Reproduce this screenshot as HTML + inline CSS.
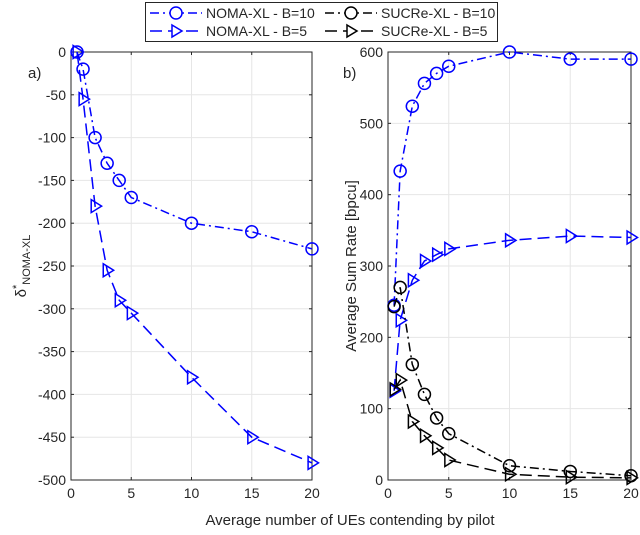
<!DOCTYPE html>
<html><head><meta charset="utf-8"><style>
body{margin:0;background:#fff;font-family:"Liberation Sans",sans-serif}
svg text{font-family:"Liberation Sans",sans-serif;fill:#262626}
</style></head><body>
<svg id="c" width="640" height="530" xmlns="http://www.w3.org/2000/svg"></svg>
<script>
const xs=[0.5,1,2,3,4,5,10,15,20];
const deltaB10=[0,-20,-100,-130,-150,-170,-200,-210,-230];
const deltaB5=[0,-55,-180,-255,-290,-305,-380,-450,-480];
const nomaB10=[245,433,524,556,570,580,600,590,590];
const nomaB5=[125,224,280,307,316,324,336,342,340];
const sucreB10=[243,270,162,120,87,65,20,12,6];
const sucreB5=[127,140,82,62,45,28,8,4,3];
const xTicks=[0,5,10,15,20];
const leftTicks=[0,-50,-100,-150,-200,-250,-300,-350,-400,-450,-500];
const rightTicks=[0,100,200,300,400,500,600];
const svg=document.getElementById('c');
const NS='http://www.w3.org/2000/svg';
function mk(t,a,p){const e=document.createElementNS(NS,t);for(const k in a)e.setAttribute(k,a[k]);(p||svg).appendChild(e);return e;}
const T=52,B=480;
const panels=[
 {x0:71,x1:312,ymin:-500,ymax:0,ticks:leftTicks,name:'left-panel'},
 {x0:388,x1:631,ymin:0,ymax:600,ticks:rightTicks,name:'right-panel'}];
panels.forEach(p=>{
 p.sx=v=>p.x0+(v-0)/20*(p.x1-p.x0);
 p.sy=v=>B-(v-p.ymin)/(p.ymax-p.ymin)*(B-T);
 const g=mk('g',{});
 
 
 mk('rect',{x:p.x0,y:T,width:p.x1-p.x0,height:B-T,fill:'#fff'},g);
 xTicks.forEach(t=>{const x=p.sx(t);
  mk('line',{x1:x,x2:x,y1:T,y2:B,stroke:'#e6e6e6','stroke-width':1},g);
  mk('line',{x1:x,x2:x,y1:B,y2:B-3,stroke:'#262626'},g);
  mk('line',{x1:x,x2:x,y1:T,y2:T+3,stroke:'#262626'},g);
  const tx=mk('text',{x:x,y:B+18,'text-anchor':'middle','font-size':14},g);tx.textContent=t;
  
  });
 p.ticks.forEach(t=>{const y=p.sy(t);
  mk('line',{x1:p.x0,x2:p.x1,y1:y,y2:y,stroke:'#e6e6e6'},g);
  mk('line',{x1:p.x0,x2:p.x0+3,y1:y,y2:y,stroke:'#262626'},g);
  mk('line',{x1:p.x1,x2:p.x1-3,y1:y,y2:y,stroke:'#262626'},g);
  const tx=mk('text',{x:p.x0-5,y:y+5,'text-anchor':'end','font-size':14},g);tx.textContent=t;
  
  });
 mk('rect',{x:p.x0,y:T,width:p.x1-p.x0,height:B-T,fill:'none',stroke:'#262626','stroke-width':1},g);
});
function tri(x,y,s){return `${x-s*0.6},${y-s} ${x+s},${y} ${x-s*0.6},${y+s}`;}
function series(p,vals,color,dash,marker,name){
 const pts=xs.map((x,i)=>[p.sx(x),p.sy(vals[i])]);
 const g=mk('g',{});
 
 
 mk('polyline',{points:pts.map(q=>q.join(',')).join(' '),fill:'none',stroke:color,'stroke-width':1.5,'stroke-dasharray':dash},g);
 pts.forEach(q=>{
  if(marker==='o')mk('circle',{cx:q[0],cy:q[1],r:6,fill:'none',stroke:color,'stroke-width':1.5},g);
  else mk('polygon',{points:tri(q[0],q[1],6.5),fill:'none',stroke:color,'stroke-width':1.5},g);
 });
}
const DD='9,4,2,4',DA='12,6';
series(panels[0],deltaB10,'#0000ff',DD,'o','delta-noma-b10');
series(panels[0],deltaB5,'#0000ff',DA,'t','delta-noma-b5');
series(panels[1],nomaB10,'#0000ff',DD,'o','rate-noma-b10');
series(panels[1],nomaB5,'#0000ff',DA,'t','rate-noma-b5');
series(panels[1],sucreB10,'#000',DD,'o','rate-sucre-b10');
series(panels[1],sucreB5,'#000',DA,'t','rate-sucre-b5');
</script>
<svg style="position:absolute;left:0;top:0" width="640" height="530" xmlns="http://www.w3.org/2000/svg">
<text x="28" y="78" font-size="15">a)</text>
<text x="343" y="78" font-size="15">b)</text>
<text transform="translate(26,266) rotate(-90)" text-anchor="middle" font-size="15">δ<tspan font-size="11" dy="-6">*</tspan><tspan font-size="11" dy="10">NOMA-XL</tspan></text>
<text transform="translate(356,266) rotate(-90)" text-anchor="middle" font-size="15">Average Sum Rate [bpcu]</text>
<text x="350" y="525" text-anchor="middle" font-size="15">Average number of UEs contending by pilot</text>
<g>
<rect x="145.5" y="2.5" width="352" height="39" fill="#fff" stroke="#262626"/>
<g>
<line x1="150" x2="202" y1="13" y2="13" stroke="#00f" stroke-width="1.5" stroke-dasharray="9,4,2,4"/><circle cx="176" cy="13" r="6" fill="#fff" stroke="#00f" stroke-width="1.5"/>
<text x="206" y="18" font-size="14">NOMA-XL - B=10</text></g>
<g>
<line x1="150" x2="202" y1="31" y2="31" stroke="#00f" stroke-width="1.5" stroke-dasharray="12,6"/><polygon points="172,25 182,31 172,37" fill="#fff" stroke="#00f" stroke-width="1.5"/>
<text x="206" y="36" font-size="14">NOMA-XL - B=5</text></g>
<g>
<line x1="325" x2="377" y1="13" y2="13" stroke="#000" stroke-width="1.5" stroke-dasharray="9,4,2,4"/><circle cx="351" cy="13" r="6" fill="#fff" stroke="#000" stroke-width="1.5"/>
<text x="381" y="18" font-size="14">SUCRe-XL - B=10</text></g>
<g>
<line x1="325" x2="377" y1="31" y2="31" stroke="#000" stroke-width="1.5" stroke-dasharray="12,6"/><polygon points="347,25 357,31 347,37" fill="#fff" stroke="#000" stroke-width="1.5"/>
<text x="381" y="36" font-size="14">SUCRe-XL - B=5</text></g>
</g>
</svg>
</body></html>
